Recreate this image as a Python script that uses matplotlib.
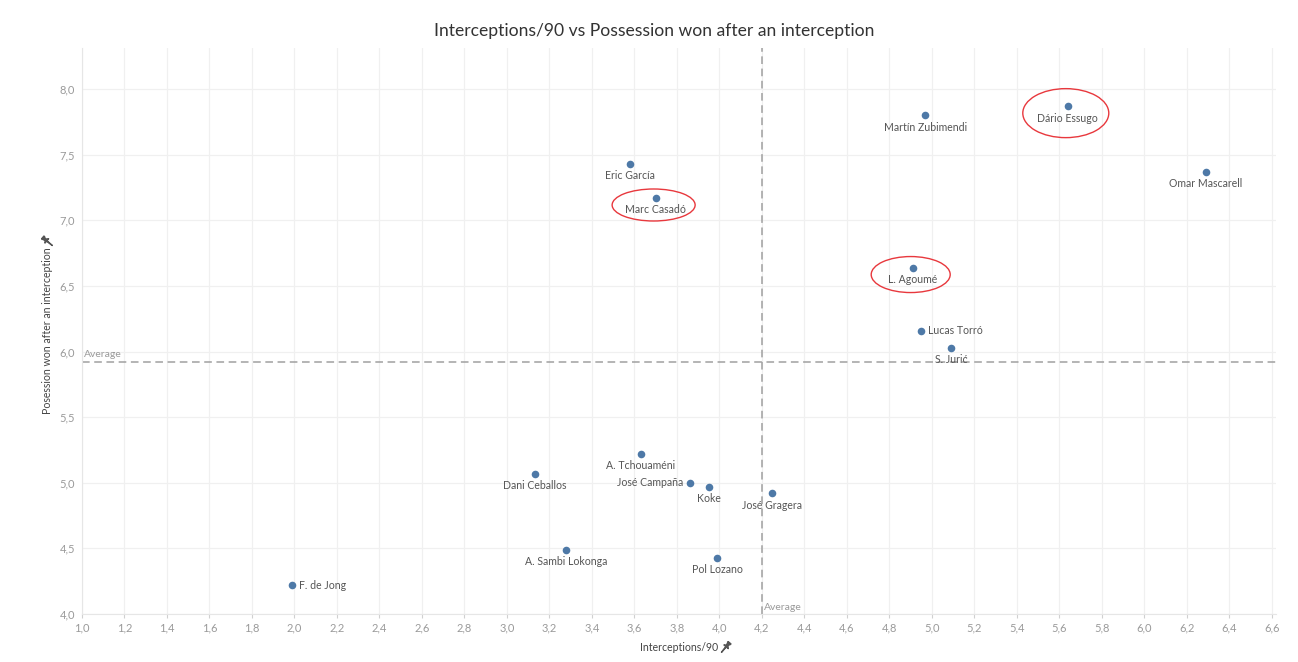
import matplotlib
matplotlib.use("Agg")
import matplotlib.pyplot as plt
from matplotlib.patches import Ellipse
from matplotlib.path import Path
from matplotlib.markers import MarkerStyle
from matplotlib.transforms import Affine2D
from matplotlib.lines import Line2D

# ---- data ----
players = ["F. de Jong", "Dani Ceballos", "A. Tchouaméni", "José Campaña", "Koke",
           "José Gragera", "A. Sambi Lokonga", "Pol Lozano", "Martín Zubimendi",
           "Dário Essugo", "Omar Mascarell", "L. Agoumé", "Lucas Torró", "S. Jurić",
           "Eric García", "Marc Casadó"]
interceptions = [1.99, 3.13, 3.63, 3.86, 3.95, 4.25, 3.28, 3.99, 4.97,
                 5.64, 6.29, 4.91, 4.95, 5.09, 3.58, 3.70]
possession_won = [4.22, 5.07, 5.22, 5.00, 4.97, 4.92, 4.49, 4.43, 7.80,
                  7.87, 7.37, 6.64, 6.16, 6.03, 7.43, 7.17]
highlighted = ["Marc Casadó", "Dário Essugo", "L. Agoumé"]
avg_interceptions = 4.2
avg_possession = 5.92
x_ticks = [round(1.0 + 0.2 * i, 1) for i in range(29)]
y_ticks = [4.0, 4.5, 5.0, 5.5, 6.0, 6.5, 7.0, 7.5, 8.0]

title = "Interceptions/90 vs Possession won after an interception"
x_label = "Interceptions/90"
y_label = "Posession won after an interception"

# ---- style ----
label_side = {"F. de Jong": "right", "Lucas Torró": "right", "José Campaña": "left"}
ellipse_px = {"Marc Casadó": (83, 32), "Dário Essugo": (86, 49), "L. Agoumé": (79, 36)}
FONT = ["Lato", "DejaVu Sans"]
plt.rcParams["font.family"] = FONT

W, H = 1298, 662
fig = plt.figure(figsize=(W / 100, H / 100), dpi=100)
L, R, T, B = 82, 1276, 48, 614
ax = fig.add_axes([L / W, 1 - B / H, (R - L) / W, (B - T) / H])
xlim = (1.0, 6.62)
ylim = (4.0, 8.313)
ax.set_xlim(*xlim)
ax.set_ylim(*ylim)

ax.set_xticks(x_ticks)
ax.set_xticklabels([f"{v:.1f}".replace(".", ",") for v in x_ticks])
ax.set_yticks(y_ticks)
ax.set_yticklabels([f"{v:.1f}".replace(".", ",") for v in y_ticks])
ax.grid(True, color="#f0f0f0", linewidth=0.9, zorder=0)
ax.set_axisbelow(True)
ax.tick_params(axis="x", colors="#d0d0d0", labelcolor="#9a9a9a", labelsize=8,
               length=3, width=0.8, pad=3)
ax.tick_params(axis="y", colors="#d0d0d0", labelcolor="#9a9a9a", labelsize=8,
               length=0, pad=5)
for s in ["top", "right"]:
    ax.spines[s].set_visible(False)
for s in ["left", "bottom"]:
    ax.spines[s].set_color("#e6e6e6")
    ax.spines[s].set_linewidth(0.8)

# average lines
ax.axhline(avg_possession, color="#a0a0a0", linestyle=(0, (5, 3)), linewidth=1.1, zorder=1)
ax.axvline(avg_interceptions, color="#a0a0a0", linestyle=(0, (5, 3)), linewidth=1.1, zorder=1)
ax.annotate("Average", xy=(xlim[0], avg_possession), xytext=(2, 3), textcoords="offset pixels",
            ha="left", va="bottom", fontsize=7.5, color="#9a9a9a")
ax.annotate("Average", xy=(avg_interceptions, ylim[0]), xytext=(2, 2), textcoords="offset pixels",
            ha="left", va="bottom", fontsize=7.5, color="#9a9a9a")

# points
ax.scatter(interceptions, possession_won, s=30, color="#4e79a7", zorder=3, linewidths=0)

for name, x, y in zip(players, interceptions, possession_won):
    side = label_side.get(name, "below")
    if side == "right":
        ax.annotate(name, (x, y), xytext=(7, 0), textcoords="offset pixels",
                    ha="left", va="center", fontsize=7.6, color="#555555")
    elif side == "left":
        ax.annotate(name, (x, y), xytext=(-6, 0), textcoords="offset pixels",
                    ha="right", va="center", fontsize=7.6, color="#555555")
    else:
        ax.annotate(name, (x, y), xytext=(0, -12), textcoords="offset pixels",
                    ha="center", va="center", fontsize=7.6, color="#555555")

# red highlight ellipses
px_x = (xlim[1] - xlim[0]) / (R - L)
px_y = (ylim[1] - ylim[0]) / (B - T)
for name, x, y in zip(players, interceptions, possession_won):
    if name in highlighted:
        w, h = ellipse_px[name]
        e = Ellipse((x - 2 * px_x, y - 7 * px_y), w * px_x, h * px_y,
                    fill=False, edgecolor="#e8383d", linewidth=1.0, zorder=4)
        ax.add_patch(e)

fig.text(654 / W, 1 - 31 / H, title, ha="center", va="center", fontsize=12.6, color="#333333")
ax.set_xlabel(x_label, fontsize=7.6, color="#444444", labelpad=6)
ax.set_ylabel(y_label, fontsize=7.6, color="#444444", labelpad=5)

# pushpin icons (no installed font has the pin glyph) drawn as small shapes
pin_path = Path([(-0.3, 1.0), (0.3, 1.0), (0.3, 0.85), (0.18, 0.85), (0.18, 0.35),
                 (0.45, 0.15), (0.05, 0.15), (0.0, -1.0), (-0.05, 0.15), (-0.45, 0.15),
                 (-0.18, 0.35), (-0.18, 0.85), (-0.3, 0.85), (-0.3, 1.0)])
fig.canvas.draw()
r = fig.canvas.get_renderer()
xb = ax.xaxis.label.get_window_extent(r)
yb = ax.yaxis.label.get_window_extent(r)
pin_x = MarkerStyle(pin_path, transform=Affine2D().rotate_deg(-40))
pin_y = MarkerStyle(pin_path, transform=Affine2D().rotate_deg(50))
fig.add_artist(Line2D([(xb.x1 + 7) / W], [(xb.y0 + xb.y1) / 2 / H], transform=fig.transFigure,
                      marker=pin_x, markersize=9, color="#555555", linestyle="none"))
fig.add_artist(Line2D([(yb.x0 + yb.x1) / 2 / W], [(yb.y1 + 7) / H], transform=fig.transFigure,
                      marker=pin_y, markersize=9, color="#555555", linestyle="none"))

fig.savefig("out.png", dpi=100)
